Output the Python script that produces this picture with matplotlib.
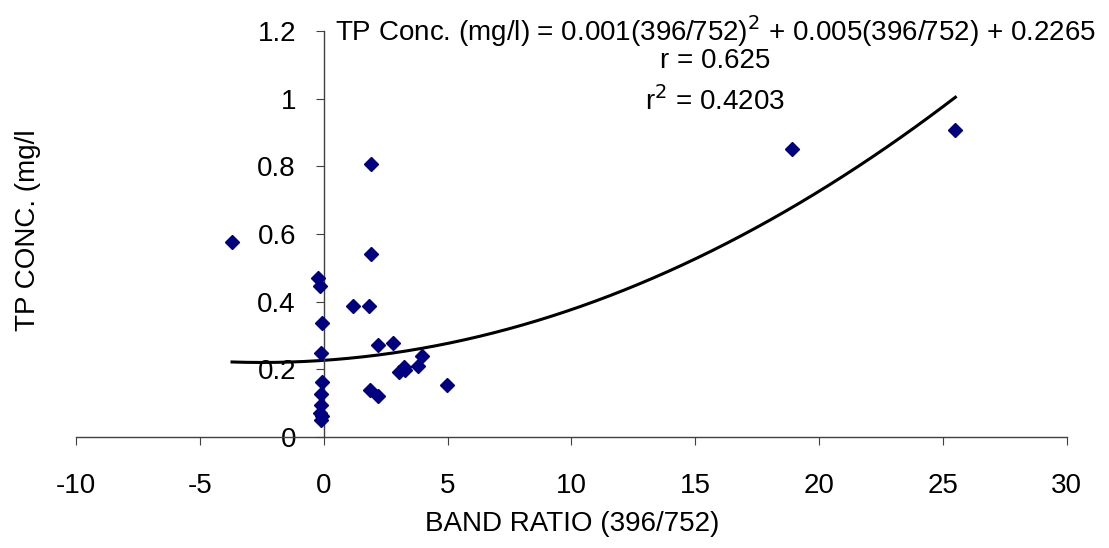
import numpy as np
import matplotlib
matplotlib.use("Agg")
import matplotlib.pyplot as plt

plt.rcParams["font.family"] = ["Liberation Sans", "DejaVu Sans"]
plt.rcParams["axes.unicode_minus"] = False

# band ratio (396/752) vs total phosphorus concentration (mg/l)
band_ratio = [-3.70, -0.22, -0.15, -0.06, -0.12, -0.05, -0.10, -0.12, -0.14, -0.08, -0.10,
              1.93, 1.93, 1.17, 1.83, 2.20, 2.81, 3.05, 3.24, 3.28, 3.82, 3.95,
              4.96, 1.87, 2.20, 18.90, 25.48]
tp_conc = [0.576, 0.471, 0.446, 0.337, 0.249, 0.163, 0.126, 0.095, 0.070, 0.062, 0.050,
           0.807, 0.540, 0.387, 0.387, 0.272, 0.277, 0.193, 0.208, 0.198, 0.210, 0.239,
           0.153, 0.139, 0.122, 0.851, 0.907]

# fitted 2nd-order trend line shown on the chart
fit_coef = [0.001, 0.005, 0.2265]
fit_range = [-3.70, 25.5]

fig = plt.figure(figsize=(11.09, 5.48), dpi=100)
ax = fig.add_axes([0.0685, 0.2026, 0.8935, 0.7408])

ax.plot(band_ratio, tp_conc, linestyle="none", marker="D", ms=7,
        color="#000080", zorder=3)
xs = np.linspace(fit_range[0], fit_range[1], 200)
ax.plot(xs, np.polyval(fit_coef, xs), color="black", lw=2.2, zorder=2)

ax.set_xlim(-10, 30)
ax.set_ylim(0, 1.2)
ax.set_xticks(np.arange(-10, 31, 5))
ax.set_yticks([0, 0.2, 0.4, 0.6, 0.8, 1, 1.2])
ax.set_yticklabels(["0", "0.2", "0.4", "0.6", "0.8", "1", "1.2"])

for s in ("top", "right"):
    ax.spines[s].set_visible(False)
ax.spines["left"].set_position(("data", 0))
for s in ("left", "bottom"):
    ax.spines[s].set_color("#404040")
    ax.spines[s].set_linewidth(1.0)
ax.tick_params(axis="both", direction="out", length=6, color="#404040",
               labelsize=20)
ax.tick_params(axis="y", pad=14)
ax.tick_params(axis="x", pad=20)
ax.patch.set_visible(False)

fig.text(0.516, 0.02, "BAND RATIO (396/752)", ha="center", va="bottom", fontsize=20)
fig.text(0.025, 0.58, "TP CONC. (mg/l", ha="center", va="center",
         rotation=90, fontsize=20)

fig.text(0.645, 0.943, "TP Conc. (mg/l) = 0.001(396/752)$^2$ + 0.005(396/752) + 0.2265",
         ha="center", va="center", fontsize=20)
fig.text(0.645, 0.888, "r = 0.625", ha="center", va="center", fontsize=20)
fig.text(0.645, 0.815, "r$^2$ = 0.4203", ha="center", va="center", fontsize=20)

fig.savefig("out.png", dpi=100)
